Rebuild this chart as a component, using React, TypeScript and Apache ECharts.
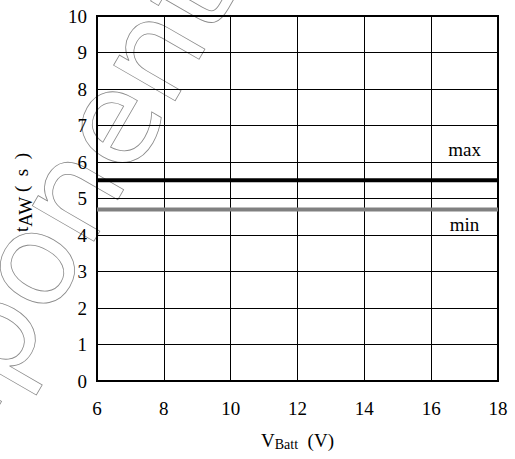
import React, { useEffect, useRef } from "react";
import * as echarts from "echarts";

const xRange = [6, 18];
const yRange = [0, 10];
const maxLine: [number, number][] = [[6, 5.5], [18, 5.5]];
const minLine: [number, number][] = [[6, 4.7], [18, 4.7]];
const maxLabelPos: [number, number] = [17, 6.33];
const minLabelPos: [number, number] = [17, 4.3];

const FONT = "Liberation Serif";

export default function App() {
  const ref = useRef<HTMLDivElement>(null);
  useEffect(() => {
    if (!ref.current) return;
    const chart = echarts.init(ref.current, null, { renderer: "svg" });
    const txt = { color: "#000", fontSize: 19, fontFamily: FONT };
    chart.setOption({
      animation: false,
      backgroundColor: "#fff",
      textStyle: { fontFamily: FONT },
      graphic: [
        {
          type: "text",
          x: 30,
          y: 262,
          rotation: (60 * Math.PI) / 180,
          z: -10,
          silent: true,
          style: {
            text: "components",
            fontSize: 130,
            fontFamily: "DejaVu Sans",
            fill: "none",
            stroke: "#8a8a8a",
            lineWidth: 0.8,
            align: "center",
            verticalAlign: "middle",
          },
        },
      ],
      grid: {
        left: 97,
        right: 17,
        top: 16,
        bottom: 78,
        show: true,
        borderColor: "#000",
        borderWidth: 2,
        backgroundColor: "transparent",
      },
      xAxis: {
        type: "value",
        min: xRange[0],
        max: xRange[1],
        interval: 2,
        axisLine: { show: true, lineStyle: { color: "#000", width: 2 } },
        axisTick: { show: false },
        splitLine: { show: true, lineStyle: { color: "#000", width: 1 } },
        axisLabel: { ...txt, margin: 18 },
        name: "{a|V}{b|Batt}{a|  (V)}",
        nameLocation: "middle",
        nameGap: 48,
        nameTextStyle: {
          ...txt,
          rich: {
            a: { ...txt },
            b: { ...txt, fontSize: 14, padding: [8, 0, 0, 0] },
          },
        },
      },
      yAxis: {
        type: "value",
        min: yRange[0],
        max: yRange[1],
        interval: 1,
        axisLine: { show: true, lineStyle: { color: "#000", width: 2 } },
        axisTick: { show: false },
        splitLine: { show: true, lineStyle: { color: "#000", width: 1 } },
        axisLabel: { ...txt, margin: 10 },
        name: "{a|t}{b|AW}{a| (  s  )}",
        nameLocation: "middle",
        nameRotate: 90,
        nameGap: 62,
        nameTextStyle: {
          ...txt,
          padding: [0, 0, 0, 12],
          rich: {
            a: { ...txt },
            b: { ...txt, padding: [8, 0, 0, 0] },
          },
        },
      },
      series: [
        {
          type: "line",
          data: maxLine,
          symbol: "none",
          lineStyle: { color: "#000", width: 4 },
          z: 5,
          markPoint: {
            symbol: "rect",
            symbolSize: 1,
            itemStyle: { color: "rgba(0,0,0,0)" },
            data: [{ coord: maxLabelPos, value: "max" }],
            label: { show: true, position: "inside", formatter: "max", ...txt },
          },
        },
        {
          type: "line",
          data: minLine,
          symbol: "none",
          lineStyle: { color: "#808080", width: 4 },
          z: 4,
          markPoint: {
            symbol: "rect",
            symbolSize: 1,
            itemStyle: { color: "rgba(0,0,0,0)" },
            data: [{ coord: minLabelPos, value: "min" }],
            label: { show: true, position: "inside", formatter: "min", ...txt },
          },
        },
      ],
    });
    return () => chart.dispose();
  }, []);
  return (
    <div
      ref={ref}
      style={{ position: "fixed", left: 0, top: 0, width: 515, height: 459 }}
    />
  );
}
